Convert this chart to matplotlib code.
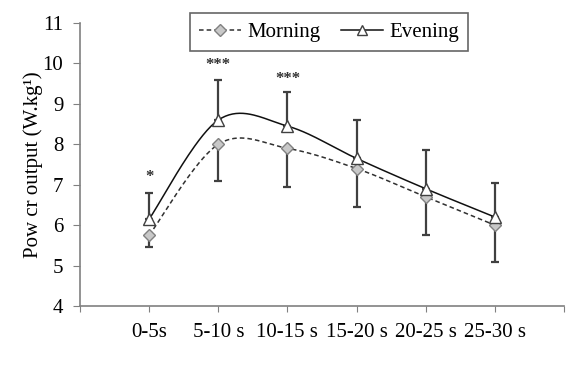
import numpy as np
import matplotlib
matplotlib.use("Agg")
import matplotlib.pyplot as plt
from matplotlib.lines import Line2D

categories = ["0-5s", "5-10 s", "10-15 s", "15-20 s", "20-25 s", "25-30 s"]
morning = [5.75, 8.0, 7.9, 7.4, 6.7, 6.0]
evening = [6.15, 8.6, 8.45, 7.65, 6.9, 6.2]
evening_err_up = [0.65, 1.0, 0.85, 0.95, 0.95, 0.85]
morning_err_down = [0.3, 0.9, 0.95, 0.95, 0.95, 0.9]
stars = ["*", "***", "***", "", "", ""]
star_y = [7.2, 9.97, 9.62, None, None, None]

plt.rcParams['font.family'] = ['Liberation Serif', 'DejaVu Serif']

def smooth(xs, ys, n=40):
    xs = np.asarray(xs, float); ys = np.asarray(ys, float)
    P = np.column_stack([xs, ys])
    out = []
    for i in range(len(P) - 1):
        p0 = P[i - 1] if i > 0 else P[i]
        p1 = P[i]; p2 = P[i + 1]
        p3 = P[i + 2] if i + 2 < len(P) else P[i + 1]
        c1 = p1 + (p2 - p0) / 6.0
        c2 = p2 - (p3 - p1) / 6.0
        t = np.linspace(0, 1, n)[:, None]
        seg = (1 - t) ** 3 * p1 + 3 * (1 - t) ** 2 * t * c1 + 3 * (1 - t) * t ** 2 * c2 + t ** 3 * p2
        out.append(seg if i == 0 else seg[1:])
    s = np.vstack(out)
    return s[:, 0], s[:, 1]

fig = plt.figure(figsize=(5.78, 3.65), dpi=100)
ax = fig.add_axes([80 / 578, 1 - 306 / 365, (564 - 80) / 578, (306 - 23) / 365])

x = np.arange(1, len(categories) + 1)
ecol = '#404040'
ax.errorbar(x, evening, yerr=[np.zeros(len(x)), evening_err_up], fmt='none',
            ecolor=ecol, elinewidth=1.6, capsize=3, capthick=1.6, zorder=2)
ax.errorbar(x, morning, yerr=[morning_err_down, np.zeros(len(x))], fmt='none',
            ecolor=ecol, elinewidth=1.6, capsize=3, capthick=1.6, zorder=2)

sx, sy = smooth(x, morning)
ax.plot(sx, sy, linestyle=(0, (3, 2)), color='#303030', linewidth=1.1, zorder=3)
sx, sy = smooth(x, evening)
ax.plot(sx, sy, linestyle='-', color='#101010', linewidth=1.1, zorder=3)

ax.plot(x, morning, linestyle='none', marker='D', markersize=6,
        markerfacecolor='#c8c8c8', markeredgecolor='#808080', markeredgewidth=1, zorder=4)
ax.plot(x, evening, linestyle='none', marker='^', markersize=8,
        markerfacecolor='white', markeredgecolor='#404040', markeredgewidth=1, zorder=5)

for xi, s, yy in zip(x, stars, star_y):
    if s:
        ax.text(xi, yy, s, ha='center', va='center', fontsize=12, color='#303030',
                fontweight='bold')

ax.set_xlim(0, 7)
ax.set_ylim(4, 11)
ax.set_yticks(range(4, 12))
ax.set_yticklabels([str(v) for v in range(4, 12)], fontsize=15)
ax.set_xticks(range(0, 8))
ax.set_xticklabels([""] + categories + [""], fontsize=15)
ax.tick_params(axis='x', length=4, color='#808080', pad=8)
ax.tick_params(axis='y', length=5, color='#808080', pad=7)
for sp in ['top', 'right']:
    ax.spines[sp].set_visible(False)
for sp in ['left', 'bottom']:
    ax.spines[sp].set_color('#808080')
    ax.spines[sp].set_linewidth(1.2)

ax.set_ylabel("Pow cr output (W.kg¹)", fontsize=15, labelpad=0)

handles = [
    Line2D([], [], linestyle=(0, (3, 2)), color='#303030', linewidth=1.1, marker='D', markersize=6,
           markerfacecolor='#c8c8c8', markeredgecolor='#808080'),
    Line2D([], [], linestyle='-', color='#101010', linewidth=1.1, marker='^', markersize=7,
           markerfacecolor='white', markeredgecolor='#404040'),
]
leg = ax.legend(handles, ["Morning", "Evening"], loc='upper center', ncol=2,
                bbox_to_anchor=(0.515, 1.035), frameon=True, fancybox=False,
                fontsize=15, handlelength=2.0, handletextpad=0.3, columnspacing=1.0,
                borderpad=0.45, borderaxespad=0, edgecolor='#404040')
leg.get_frame().set_linewidth(1.2)

fig.savefig("out.png", dpi=100)
